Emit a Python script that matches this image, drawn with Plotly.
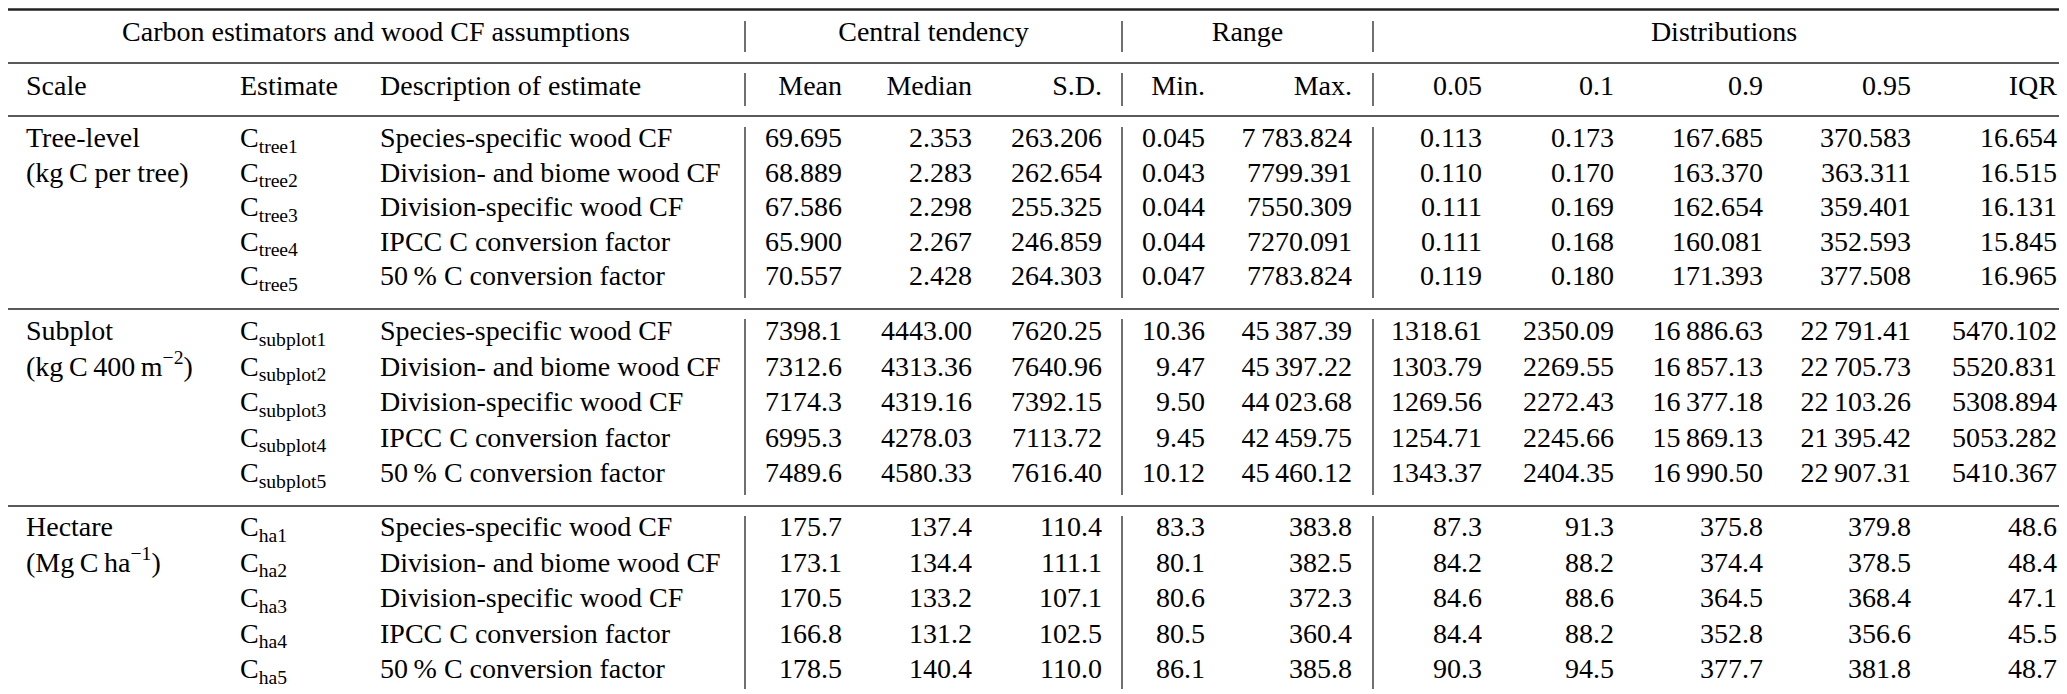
import plotly.graph_objects as go

W, H = 2067, 694
FONT = "Liberation Serif, Times New Roman, serif"
SIZE = 28
THIN = "\u2009"

# ---- table text ----
group_headers = ["Carbon estimators and wood CF assumptions", "Central tendency", "Range", "Distributions"]
col_headers = ["Scale", "Estimate", "Description of estimate",
               "Mean", "Median", "S.D.", "Min.", "Max.", "0.05", "0.1", "0.9", "0.95", "IQR"]

scale_labels = ["Tree-level", "(kg" + THIN + "C per tree)", "", "", "",
                "Subplot", "(kg" + THIN + "C" + THIN + "400" + THIN + "m<sup>−2</sup>)", "", "", "",
                "Hectare", "(Mg" + THIN + "C" + THIN + "ha<sup>−1</sup>)", "", "", ""]
estimates = ["C<sub>tree1</sub>", "C<sub>tree2</sub>", "C<sub>tree3</sub>", "C<sub>tree4</sub>", "C<sub>tree5</sub>",
             "C<sub>subplot1</sub>", "C<sub>subplot2</sub>", "C<sub>subplot3</sub>", "C<sub>subplot4</sub>", "C<sub>subplot5</sub>",
             "C<sub>ha1</sub>", "C<sub>ha2</sub>", "C<sub>ha3</sub>", "C<sub>ha4</sub>", "C<sub>ha5</sub>"]
descriptions = ["Species-specific wood CF", "Division- and biome wood CF", "Division-specific wood CF",
                "IPCC C conversion factor", "50" + THIN + "% C conversion factor"]

# ---- values (tree rows, subplot rows, hectare rows) ----
mean = [69.695, 68.889, 67.586, 65.900, 70.557,
        7398.1, 7312.6, 7174.3, 6995.3, 7489.6,
        175.7, 173.1, 170.5, 166.8, 178.5]
median = [2.353, 2.283, 2.298, 2.267, 2.428,
          4443.00, 4313.36, 4319.16, 4278.03, 4580.33,
          137.4, 134.4, 133.2, 131.2, 140.4]
sd = [263.206, 262.654, 255.325, 246.859, 264.303,
      7620.25, 7640.96, 7392.15, 7113.72, 7616.40,
      110.4, 111.1, 107.1, 102.5, 110.0]
vmin = [0.045, 0.043, 0.044, 0.044, 0.047,
        10.36, 9.47, 9.50, 9.45, 10.12,
        83.3, 80.1, 80.6, 80.5, 86.1]
vmax = [7783.824, 7799.391, 7550.309, 7270.091, 7783.824,
        45387.39, 45397.22, 44023.68, 42459.75, 45460.12,
        383.8, 382.5, 372.3, 360.4, 385.8]
p05 = [0.113, 0.110, 0.111, 0.111, 0.119,
       1318.61, 1303.79, 1269.56, 1254.71, 1343.37,
       87.3, 84.2, 84.6, 84.4, 90.3]
p10 = [0.173, 0.170, 0.169, 0.168, 0.180,
       2350.09, 2269.55, 2272.43, 2245.66, 2404.35,
       91.3, 88.2, 88.6, 88.2, 94.5]
p90 = [167.685, 163.370, 162.654, 160.081, 171.393,
       16886.63, 16857.13, 16377.18, 15869.13, 16990.50,
       375.8, 374.4, 364.5, 352.8, 377.7]
p95 = [370.583, 363.311, 359.401, 352.593, 377.508,
       22791.41, 22705.73, 22103.26, 21395.42, 22907.31,
       379.8, 378.5, 368.4, 356.6, 381.8]
iqr = [16.654, 16.515, 16.131, 15.845, 16.965,
       5470.102, 5520.831, 5308.894, 5053.282, 5410.367,
       48.6, 48.4, 47.1, 45.5, 48.7]

value_cols = [mean, median, sd, vmin, vmax, p05, p10, p90, p95, iqr]
# decimals per column for tree / subplot / hectare sections
decimals = [[3] * 10,
            [1, 2, 2, 2, 2, 2, 2, 2, 2, 3],
            [1] * 10]
# cells printed with a thousands thin space although < 10 000 (as in the source)
extra_grouping = {(4, 0)}

# ---- layout constants (pixels) ----
left_x = [18, 232, 372]
right_x = [834, 964, 1094, 1197, 1344, 1474, 1606, 1755, 1903, 2049]
vlines = [737, 1114, 1365]
group_x = [368, (737 + 1114) / 2, (1114 + 1365) / 2, (1365 + W) / 2]
head1_y, head2_y = 26, 80
section_rows = [(132, 34.5), (325, 35.5), (521, 35.5)]  # first row y, row pitch
hrules = [(1.5, 2.5), (55, 1.3), (108, 1.3), (301, 1.3), (498, 1.3), (691.5, 2.5)]
vbands = [(13, 44), (65, 98), (119, 290), (311, 487), (508, 681)]

row_y = [y0 + i * pitch for y0, pitch in section_rows for i in range(5)]


def fmt(v, d, grouped):
    s = f"{v:.{d}f}"
    if grouped:
        ip, fp = s.split(".")
        s = ip[:-3] + THIN + ip[-3:] + "." + fp
    return s


def text_trace(xs, ys, texts, pos):
    keep = [i for i, t in enumerate(texts) if t]
    return go.Scatter(x=[xs[i] for i in keep], y=[ys[i] for i in keep],
                      text=[texts[i] for i in keep], mode="text", textposition=pos,
                      textfont=dict(family=FONT, size=SIZE, color="black"),
                      hoverinfo="skip", showlegend=False, cliponaxis=False)


fig = go.Figure()

# header rows
fig.add_trace(text_trace(group_x, [head1_y] * 4, group_headers, "middle center"))
fig.add_trace(text_trace(left_x, [head2_y] * 3, col_headers[:3], "middle right"))
fig.add_trace(text_trace(right_x, [head2_y] * 10, col_headers[3:], "middle left"))

# label columns
descs = descriptions * 3
for x, col in zip(left_x, [scale_labels, estimates, descs]):
    fig.add_trace(text_trace([x] * len(col), row_y, col, "middle right"))

# numeric columns
for c, (x, col) in enumerate(zip(right_x, value_cols)):
    texts = []
    for r, v in enumerate(col):
        d = decimals[r // 5][c]
        texts.append(fmt(v, d, v >= 10000 or (c, r) in extra_grouping))
    fig.add_trace(text_trace([x] * len(col), row_y, texts, "middle left"))

shapes = []
for y, w in hrules:
    shapes.append(dict(type="line", xref="x", yref="y", x0=0, x1=W, y0=y, y1=y,
                       line=dict(color="#222222", width=w)))
for y0, y1 in vbands:
    for x in vlines:
        shapes.append(dict(type="line", xref="x", yref="y", x0=x, x1=x, y0=y0, y1=y1,
                           line=dict(color="#222222", width=1.3)))

fig.update_layout(
    width=W, height=H,
    margin=dict(l=0, r=0, t=0, b=0),
    font=dict(family=FONT, size=SIZE, color="black"),
    paper_bgcolor="white", plot_bgcolor="white",
    xaxis=dict(range=[0, W], visible=False, fixedrange=True),
    yaxis=dict(range=[H, 0], visible=False, fixedrange=True),
    shapes=shapes,
    showlegend=False,
)

fig.write_html("out.html")
